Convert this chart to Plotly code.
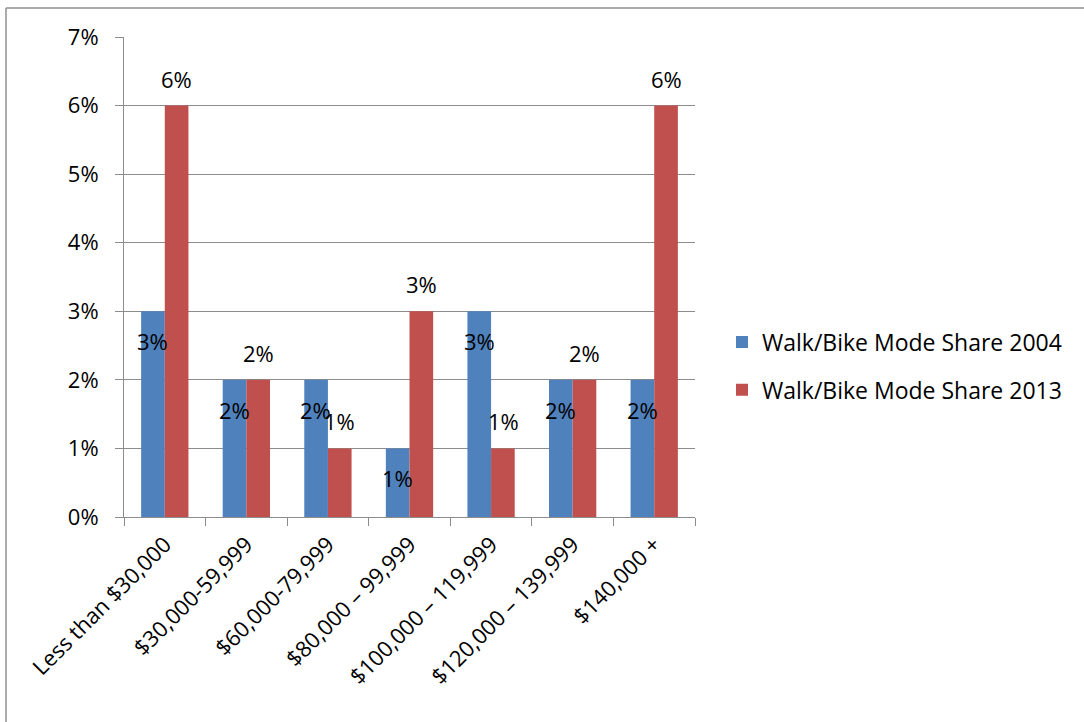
import plotly.graph_objects as go

categories = ["Less than $30,000", "$30,000-59,999", "$60,000-79,999",
              "$80,000 – 99,999", "$100,000 – 119,999", "$120,000 – 139,999",
              "$140,000 +"]
share_2004 = [0.03, 0.02, 0.02, 0.01, 0.03, 0.02, 0.02]
share_2013 = [0.06, 0.02, 0.01, 0.03, 0.01, 0.02, 0.06]
series_names = ["Walk/Bike Mode Share 2004", "Walk/Bike Mode Share 2013"]
y_ticks = [0, 0.01, 0.02, 0.03, 0.04, 0.05, 0.06, 0.07]

BLUE = "#4F81BD"
RED = "#C0504D"
GRID = "#8C8C8C"
FONT = "Open Sans"
FS = 22

fig = go.Figure()
fig.add_trace(go.Bar(x=categories, y=share_2004, name=series_names[0],
                     legendgroup="a",
                     marker=dict(color=BLUE, line=dict(width=0))))
fig.add_trace(go.Bar(x=categories, y=share_2013, name=series_names[1],
                     legendgroup="b",
                     marker=dict(color=RED, line=dict(width=0))))

annotations = []
for c, v in zip(categories, share_2004):
    annotations.append(dict(x=c, y=v, xref="x", yref="y", text=f"{v*100:.0f}%",
                            showarrow=False, xshift=-12, yshift=-30,
                            font=dict(size=FS, color="black", family=FONT)))
for c, v in zip(categories, share_2013):
    annotations.append(dict(x=c, y=v, xref="x", yref="y", text=f"{v*100:.0f}%",
                            showarrow=False, xshift=12, yshift=27,
                            font=dict(size=FS, color="black", family=FONT)))

L, R, T, B = 124, 389, 37, 205
W, H = 1084, 722
pw, ph = W - L - R, H - T - B
bx = (6 - L) / pw
by = 1 + (T - 8) / ph
bx_end = (W + 10 - L) / pw
by_end = -(B + 10) / ph

fig.update_layout(
    width=W, height=H,
    margin=dict(l=L, r=R, t=T, b=B, pad=0),
    paper_bgcolor="white", plot_bgcolor="white",
    font=dict(family=FONT, size=FS, color="black"),
    barmode="group", bargap=0.42, bargroupgap=0,
    showlegend=True,
    legend=dict(x=1.0 + (722 - 695) / pw, y=(517 - 366) / ph,
                xanchor="left", yanchor="middle",
                xref="paper", yref="paper",
                font=dict(size=23, family=FONT), tracegroupgap=15,
                itemwidth=30, bgcolor="rgba(0,0,0,0)"),
    annotations=annotations,
    shapes=[
        dict(type="line", xref="paper", yref="paper", x0=bx, x1=bx_end, y0=by, y1=by,
             line=dict(color="#8F8F8F", width=1.5), layer="below"),
        dict(type="line", xref="paper", yref="paper", x0=bx, x1=bx, y0=by, y1=by_end,
             line=dict(color="#8F8F8F", width=1.5), layer="below"),
    ],
)
fig.update_xaxes(showline=True, linecolor=GRID, linewidth=1,
                 ticks="outside", ticklen=8, tickcolor=GRID, tickson="boundaries",
                 tickangle=-45, tickfont=dict(size=FS, family=FONT),
                 ticklabelstandoff=5,
                 showgrid=False, zeroline=False)
fig.update_yaxes(range=[0, 0.07], tickvals=y_ticks, tickformat=".0%",
                 showline=True, linecolor=GRID, linewidth=1,
                 ticks="outside", ticklen=8, tickcolor=GRID,
                 ticklabelstandoff=12,
                 showgrid=True, gridcolor=GRID, gridwidth=1, zeroline=False,
                 tickfont=dict(size=FS, family=FONT))

fig.write_html("out.html", config={"displayModeBar": False},
               post_script="document.body.style.margin='0';document.body.style.overflow='hidden';")
